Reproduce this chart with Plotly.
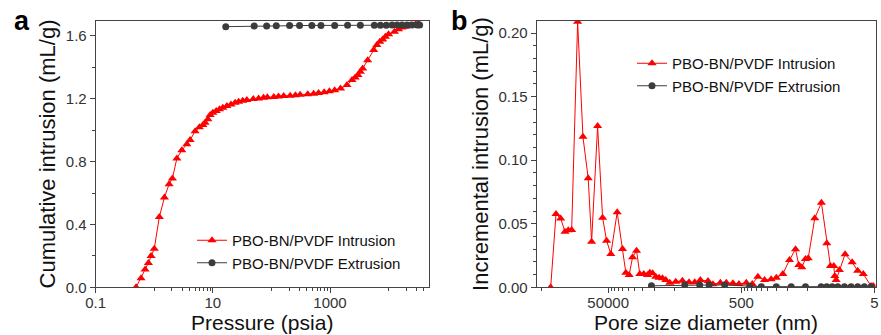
import plotly.graph_objects as go

# ---------------- data: panel a (cumulative intrusion vs pressure) ----------------
intr_pressure = [0.489, 0.594, 0.697, 0.794, 0.881, 1.0, 1.22, 1.49, 1.79, 2.04, 2.43, 2.95,
                 3.60, 4.09, 4.98, 5.89, 6.76, 7.38, 8.22, 8.99, 10.0, 11.4, 13.0, 14.8, 17.4,
                 20.4, 24.0, 27.5, 32.4, 38.0, 49.0, 60.3, 73.3, 85.1, 110, 132, 162, 209, 257,
                 309, 417, 525, 638, 794, 977, 1202, 1514, 1950, 2377, 2692, 3006, 3296, 3614,
                 4395, 5559, 6310, 7079, 7943, 8810, 10000, 12590, 14790, 16980, 19500, 23440,
                 28840, 32360]
intr_cumulative = [0.0, 0.057, 0.113, 0.155, 0.20, 0.246, 0.448, 0.572, 0.656, 0.693, 0.82, 0.873,
                   0.911, 0.937, 0.994, 1.018, 1.033, 1.047, 1.069, 1.096, 1.111, 1.122, 1.133,
                   1.143, 1.154, 1.164, 1.174, 1.181, 1.187, 1.192, 1.198, 1.202, 1.206, 1.209,
                   1.212, 1.215, 1.218, 1.220, 1.222, 1.225, 1.229, 1.232, 1.237, 1.242, 1.248,
                   1.255, 1.266, 1.287, 1.319, 1.336, 1.351, 1.372, 1.393, 1.446, 1.510, 1.542,
                   1.563, 1.578, 1.595, 1.610, 1.627, 1.642, 1.653, 1.659, 1.668, 1.674, 1.680]

extr_pressure = [16.6, 50.8, 82.8, 121, 204, 302, 490, 701, 1202, 1995, 3296, 5715, 7244, 9120,
                 11480, 13960, 16980, 20700, 25120, 30690, 33880]
extr_cumulative = [1.659, 1.663, 1.664, 1.665, 1.666, 1.666, 1.667, 1.667, 1.667, 1.668, 1.668,
                   1.668, 1.668, 1.668, 1.669, 1.669, 1.669, 1.669, 1.669, 1.669, 1.669]

# ---------------- data: panel b (incremental intrusion vs pore diameter) ----------------
intr_diameter = [365600, 304100, 258800, 222800, 199100, 177000, 143900, 119700, 99770, 88720,
                 72110, 60670, 52840, 45600, 36640, 30410, 27160, 24210, 21530, 18750, 16750,
                 14590, 12820, 11860, 10790, 9638, 8590, 7638, 6823, 5943, 4831, 3837, 3048, 2506,
                 2061, 1581, 1334, 1033, 839, 668, 543, 421, 342, 282, 224, 178, 149, 119, 94.4,
                 76.7, 68.4, 61.7, 54.3, 49.4, 39.4, 31.3, 26.0, 22.9, 20.4, 19.7, 18.8, 16.8,
                 13.8, 10.8, 8.93, 7.35, 5.62, 5.20]
intr_incremental = [0.0, 0.0576, 0.0542, 0.0437, 0.0448, 0.045, 0.2089, 0.1184, 0.0857, 0.0359,
                    0.1268, 0.0547, 0.0367, 0.0262, 0.059, 0.0301, 0.0115, 0.0097, 0.0236, 0.0288,
                    0.0105, 0.0105, 0.0097, 0.0115, 0.011, 0.0083, 0.0075, 0.0071, 0.0057, 0.0036,
                    0.0044, 0.0052, 0.0039, 0.0039, 0.0057, 0.005, 0.0024, 0.0036, 0.0036, 0.0031,
                    0.0026, 0.0036, 0.0026, 0.0083, 0.0057, 0.0063, 0.0075, 0.0105, 0.0215, 0.0299,
                    0.0175, 0.0157, 0.0223, 0.0228, 0.0543, 0.0665, 0.0346, 0.0167, 0.0167, 0.0089,
                    0.0057, 0.0136, 0.026, 0.0197, 0.013, 0.0105, 0.001, 0.001]

extr_diameter = [11190, 3540, 2109, 1528, 889, 375, 251, 149, 89.1, 54.3, 31.6, 26.0, 21.6, 17.8,
                 14.1, 11.2, 8.93, 7.08, 5.62]
extr_incremental = [0.0012, 0.0018, 0.0018, 0.0018, 0.0018, 0.0008, 0.0005, 0.0005, 0.0005,
                    0.0005, 0.0005, 0.0005, 0.0005, 0.0005, 0.0005, 0.0005, 0.0005, 0.0005, 0.0005]

# tick labels
a_xticks = [0.1, 10, 1000]
a_xticktext = ["0.1", "10", "1000"]
a_yticks = [0.0, 0.4, 0.8, 1.2, 1.6]
a_yticktext = ["0.0", "0.4", "0.8", "1.2", "1.6"]
b_xticks = [50000, 500, 5]
b_xticktext = ["50000", "500", "5"]
b_yticks = [0.0, 0.05, 0.10, 0.15, 0.20]
b_yticktext = ["0.00", "0.05", "0.10", "0.15", "0.20"]

names = ["PBO-BN/PVDF Intrusion", "PBO-BN/PVDF Extrusion"]
x_titles = ["Pressure (psia)", "Pore size diameter (nm)"]

# ---------------- styling ----------------
RED = "#FF0000"
DARK = "#3C3C3C"
AXC = "#444444"
FONT = "Arial, Liberation Sans, sans-serif"

a_minor = [k for k in range(1, 10)] + [100 * k for k in range(1, 10)] + [10000 * k for k in range(1, 5)]
b_minor = [50 * k for k in range(1, 10)] + [5000 * k for k in range(1, 10)] + [500000]

fig = go.Figure()
fig.add_trace(go.Scatter(x=intr_pressure, y=intr_cumulative, name=names[0], mode="lines+markers",
                         line=dict(color=RED, width=1),
                         marker=dict(symbol="triangle-up", size=8, color=RED),
                         xaxis="x", yaxis="y", legend="legend"))
fig.add_trace(go.Scatter(x=extr_pressure, y=extr_cumulative, name=names[1], mode="lines+markers",
                         line=dict(color=DARK, width=1),
                         marker=dict(symbol="circle", size=7, color=DARK),
                         xaxis="x", yaxis="y", legend="legend"))
fig.add_trace(go.Scatter(x=intr_diameter, y=intr_incremental, name=names[0], mode="lines+markers",
                         line=dict(color=RED, width=1),
                         marker=dict(symbol="triangle-up", size=8, color=RED),
                         xaxis="x2", yaxis="y2", legend="legend2"))
fig.add_trace(go.Scatter(x=extr_diameter, y=extr_incremental, name=names[1], mode="lines+markers",
                         line=dict(color=DARK, width=1),
                         marker=dict(symbol="circle", size=7, color=DARK),
                         xaxis="x2", yaxis="y2", legend="legend2"))

W, H = 881, 335
ydom = [1 - 287.3 / H, 1 - 20.7 / H]
xdom_a = [95.7 / W, 429 / W]
xdom_b = [536.7 / W, 875.7 / W]

common_axis = dict(showline=True, linecolor=AXC, linewidth=1, mirror=True, showgrid=False,
                   zeroline=False, ticks="outside", ticklen=5, tickcolor=AXC, tickwidth=1,
                   tickfont=dict(family=FONT, size=15, color="#333333"), automargin=False)
title_font = dict(family=FONT, size=22, color="#111111")
xtitle_font = dict(family=FONT, size=21, color="#111111")

fig.update_layout(
    width=W, height=H, margin=dict(l=0, r=0, t=0, b=0),
    paper_bgcolor="white", plot_bgcolor="white",
    font=dict(family=FONT, color="#111111"),
    xaxis=dict(common_axis, type="log", domain=xdom_a, range=[-1, 4.69],
               tickmode="array", tickvals=a_xticks, ticktext=a_xticktext,
               ticklabelstandoff=-3,
               minor=dict(tickmode="array", tickvals=a_minor, ticks="outside", ticklen=3,
                          tickcolor=AXC, showgrid=False),
               anchor="y"),
    yaxis=dict(common_axis, domain=ydom, range=[0, 1.697],
               tickmode="array", tickvals=a_yticks, ticktext=a_yticktext,
               minor=dict(tickmode="array", tickvals=[0.2, 0.6, 1.0, 1.4], ticks="outside",
                          ticklen=3, tickcolor=AXC, showgrid=False),
               title=dict(text="Cumulative intrusion (mL/g)", font=title_font, standoff=4),
               anchor="x"),
    xaxis2=dict(common_axis, type="log", domain=xdom_b, range=[5.773, 0.68],
                tickmode="array", tickvals=b_xticks, ticktext=b_xticktext,
                ticklabelstandoff=-3,
                minor=dict(tickmode="array", tickvals=b_minor, ticks="outside", ticklen=3,
                           tickcolor=AXC, showgrid=False),
                anchor="y2"),
    yaxis2=dict(common_axis, domain=ydom, range=[0, 0.2097],
                tickmode="array", tickvals=b_yticks, ticktext=b_yticktext,
                minor=dict(tickmode="array",
                           tickvals=[i / 100 for i in range(1, 21) if i % 5 != 0],
                           ticks="outside", ticklen=3, tickcolor=AXC, showgrid=False),
                title=dict(text="Incremental intrusion (mL/g)", font=title_font, standoff=3),
                anchor="x2"),
    legend=dict(x=192 / W, y=1 - 224 / H, xanchor="left", yanchor="top",
                bgcolor="rgba(0,0,0,0)", font=dict(family=FONT, size=15, color="#111111"),
                itemwidth=30, tracegroupgap=0),
    legend2=dict(x=632 / W, y=1 - 47 / H, xanchor="left", yanchor="top",
                 bgcolor="rgba(0,0,0,0)", font=dict(family=FONT, size=15, color="#111111"),
                 itemwidth=30, tracegroupgap=0),
    annotations=[
        dict(text="<b>a</b>", x=12 / W, y=1 - 4 / H, xref="paper", yref="paper",
             xanchor="left", yanchor="top", showarrow=False,
             font=dict(family=FONT, size=27, color="black")),
        dict(text="<b>b</b>", x=449 / W, y=1 - 4 / H, xref="paper", yref="paper",
             xanchor="left", yanchor="top", showarrow=False,
             font=dict(family=FONT, size=27, color="black")),
        dict(text=x_titles[0], x=(xdom_a[0] + xdom_a[1]) / 2, y=0, xref="paper", yref="paper",
             xanchor="center", yanchor="bottom", showarrow=False, font=xtitle_font,
             borderpad=0),
        dict(text=x_titles[1], x=(xdom_b[0] + xdom_b[1]) / 2, y=0, xref="paper", yref="paper",
             xanchor="center", yanchor="bottom", showarrow=False, font=xtitle_font,
             borderpad=0),
    ],
)

fig.write_html("out.html", config={"displayModeBar": False},
               post_script="document.body.style.margin='0px';document.body.style.padding='0px';")
